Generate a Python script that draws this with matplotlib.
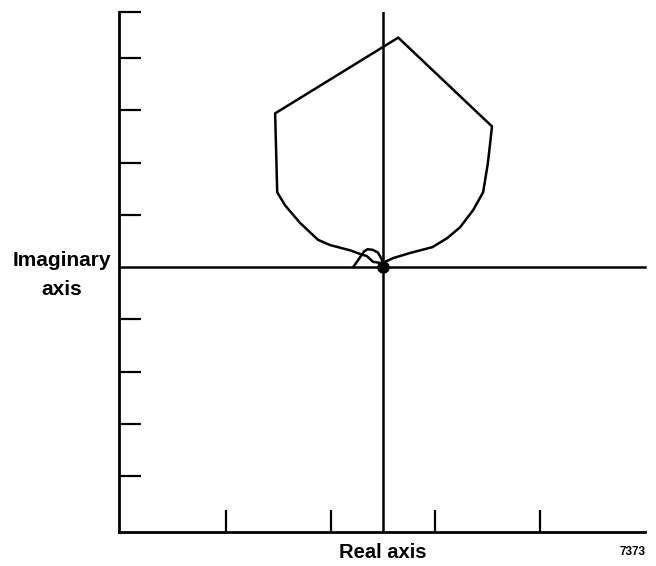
import matplotlib
matplotlib.use("Agg")
import matplotlib.pyplot as plt
import numpy as np

# locus (real, imaginary)
re_main = [0.0, 0.04, 0.19, 0.52, 0.94, 1.22, 1.47, 1.72, 1.91, 2.0, 2.08, 0.29,
           -2.06, -2.02, -1.87, -1.58, -1.24, -1.01, -0.63, -0.38, -0.31, -0.19, -0.06, 0.0]
im_main = [0.02, 0.1, 0.17, 0.27, 0.38, 0.55, 0.76, 1.09, 1.43, 1.98, 2.69, 4.39,
           2.94, 1.43, 1.18, 0.84, 0.52, 0.42, 0.32, 0.23, 0.21, 0.1, 0.08, 0.02]
re_loop = [-0.57, -0.45, -0.36, -0.3, -0.2, -0.1, -0.03, 0.0]
im_loop = [0.0, 0.17, 0.3, 0.34, 0.33, 0.28, 0.16, 0.06]

y_ticks = [-4, -3, -2, -1, 1, 2, 3, 4, 4.88]
x_ticks = [-3, -1, 1, 3]

plt.rcParams['font.family'] = ['Liberation Sans', 'DejaVu Sans']

fig = plt.figure(figsize=(6.56, 5.66), dpi=100)
ax = fig.add_axes([119 / 656, 34 / 566, 526 / 656, 520 / 566])
ax.set_xlim(-5.04, 5.0)
ax.set_ylim(-5.07, 4.88)

for s in ['top', 'right']:
    ax.spines[s].set_visible(False)
for s in ['left', 'bottom']:
    ax.spines[s].set_linewidth(2.0)

ax.set_xticks(x_ticks)
ax.set_yticks(y_ticks)
ax.set_xticklabels([])
ax.set_yticklabels([])
ax.tick_params(direction='in', length=16, width=1.6)

ax.axhline(0, color='black', lw=1.8, clip_on=False)
ax.axvline(0, color='black', lw=1.8, ymax=1.0)

ax.plot(re_main, im_main, color='black', lw=1.8)
ax.plot(re_loop, im_loop, color='black', lw=1.8)
ax.plot([0], [0], 'o', color='black', ms=8, clip_on=False, zorder=5)

fig.text(62 / 656, 1 - 275 / 566, "Imaginary\naxis", ha='center', va='center',
         fontsize=15, fontweight='bold', linespacing=1.65)
fig.text(383 / 656, 1 - 553 / 566, "Real axis", ha='center', va='center',
         fontsize=14.5, fontweight='bold')
fig.text(632 / 656, 1 - 552 / 566, "7373", ha='center', va='center',
         fontsize=8.5, fontweight='bold')

fig.savefig("out.png", dpi=100)
